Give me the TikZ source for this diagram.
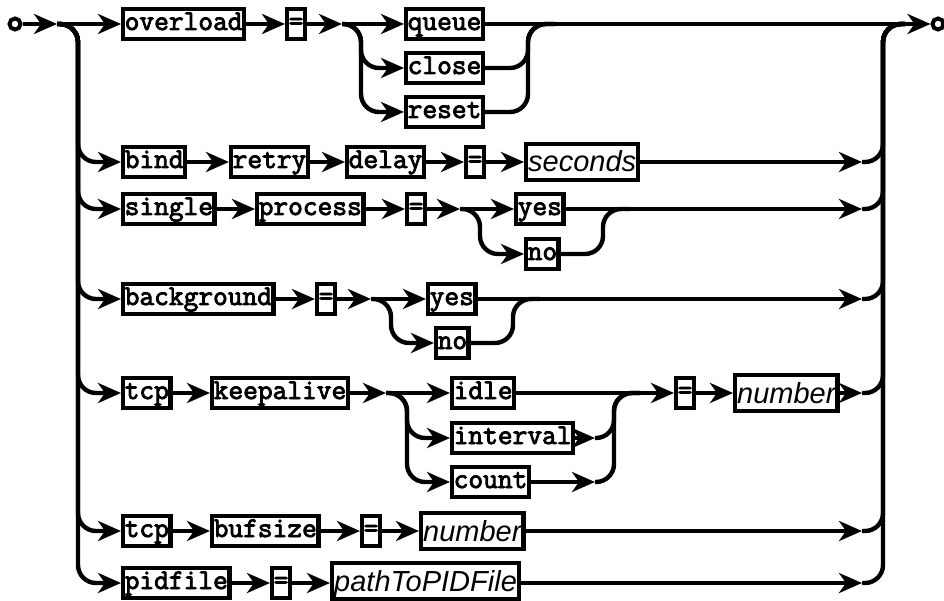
\documentclass[tikz,border=0pt]{standalone}
\usepackage{fontspec}
\setmonofont{Latin Modern Mono}[AutoFakeBold=3]
\setsansfont{Liberation Sans}
\usetikzlibrary{arrows.meta}
\begin{document}
\begin{tikzpicture}[x=1pt, y=-1pt, line width=4.4pt,
    >={Stealth[length=23pt,width=20pt,inset=7pt]},
    kw/.style={draw, anchor=west, inner xsep=1.5pt, inner ysep=0pt, minimum height=30pt, text height=17pt, text depth=5pt, font=\fontsize{28.6}{28.6}\selectfont\ttfamily\bfseries},
    nt/.style={draw, anchor=west, inner xsep=2pt, inner ysep=0pt, minimum height=36pt, text height=22pt, text depth=2pt, font=\fontsize{29}{29}\selectfont\sffamily\itshape},
    rail/.style={rounded corners=18pt},
    term/.style={draw, circle, inner sep=0pt, minimum size=11pt, line width=4pt}]
    \useasboundingbox (0,0) rectangle (944,601);
    \node[term] (entry) at (15,24) {};
    \node[term] (exit) at (938,24) {};
    \coordinate (j0) at (57,24);
    \coordinate (lrail) at (78,24);
    \coordinate (rtop) at (883,24);
    \coordinate (rtopr) at (905,24);
    % overload = queue | close | reset
    \node[kw] (ovl) at (121,24) {overload};
    \node[kw] (eq1) at (285,24) {=};
    \coordinate (c1) at (342,24);
    \coordinate (b1) at (361,24);
    \node[kw] (queue) at (404,24) {queue};
    \node[kw] (close) at (404,68) {close};
    \node[kw] (reset) at (404,112) {reset};
    \coordinate (m1) at (528,24);
    \coordinate (m1r) at (555,24);
    \draw[->] (entry) -- (j0);
    \draw[->] (j0) -- (ovl);
    \draw[->] (ovl) -- (eq1);
    \draw[->] (eq1) -- (c1);
    \draw[->] (c1) -- (queue);
    \draw[->] (queue) -- (exit);
    \draw[rail, ->] (c1) -| (close.west -| b1) -- (close);
    \draw[rail, ->] (c1) -| (reset.west -| b1) -- (reset);
    \draw[rail] (close.east) -| (m1) -- (m1r);
    \draw[rail] (reset.east) -| (m1) -- (m1r);
    % bind retry delay = seconds
    \node[kw] (bind) at (121,162) {bind};
    \node[kw] (retry) at (229,162) {retry};
    \node[kw] (delay) at (345,162) {delay};
    \node[kw] (eq2) at (464,162) {=};
    \node[nt] (seconds) at (524,162) {seconds};
    \coordinate (r2) at (862,162);
    \draw[rail, ->] (j0) -| (bind.west -| lrail) -- (bind);
    \draw[->] (bind) -- (retry);
    \draw[->] (retry) -- (delay);
    \draw[->] (delay) -- (eq2);
    \draw[->] (eq2) -- (seconds);
    \draw[->] (seconds) -- (r2);
    \draw[rail] (r2) -| (rtop) -- (rtopr);
    % single process = yes | no
    \node[kw] (single) at (121,209) {single};
    \node[kw] (process) at (255,209) {process};
    \node[kw] (eq3) at (405,209) {=};
    \coordinate (c3) at (460,209);
    \coordinate (b3) at (480,209);
    \node[kw] (yes3) at (514,209) {yes};
    \node[kw] (no3) at (524,254) {no};
    \coordinate (m3) at (603,209);
    \coordinate (m3r) at (630,209);
    \coordinate (r3) at (862,209);
    \draw[rail, ->] (j0) -| (single.west -| lrail) -- (single);
    \draw[->] (single) -- (process);
    \draw[->] (process) -- (eq3);
    \draw[->] (eq3) -- (c3);
    \draw[->] (c3) -- (yes3);
    \draw[rail, ->] (c3) -| (no3.west -| b3) -- (no3);
    \draw[rail] (no3.east) -| (m3) -- (m3r);
    \draw[->] (yes3) -- (r3);
    \draw[rail] (r3) -| (rtop) -- (rtopr);
    % background = yes | no
    \node[kw] (bg) at (121,299) {background};
    \node[kw] (eq4) at (315,299) {=};
    \coordinate (c4) at (371,299);
    \coordinate (b4) at (391,299);
    \node[kw] (yes4) at (426,299) {yes};
    \node[kw] (no4) at (434,343) {no};
    \coordinate (m4) at (513,299);
    \coordinate (m4r) at (540,299);
    \coordinate (r4) at (862,299);
    \draw[rail, ->] (j0) -| (bg.west -| lrail) -- (bg);
    \draw[->] (bg) -- (eq4);
    \draw[->] (eq4) -- (c4);
    \draw[->] (c4) -- (yes4);
    \draw[rail, ->] (c4) -| (no4.west -| b4) -- (no4);
    \draw[rail] (no4.east) -| (m4) -- (m4r);
    \draw[->] (yes4) -- (r4);
    \draw[rail] (r4) -| (rtop) -- (rtopr);
    % tcp keepalive idle | interval | count = number
    \node[kw] (tcp5) at (121,393) {tcp};
    \node[kw] (keep) at (210,393) {keepalive};
    \coordinate (c5) at (386,393);
    \coordinate (b5) at (407,393);
    \node[kw] (idle) at (450,393) {idle};
    \node[kw] (interval) at (450,438) {interval};
    \node[kw] (count) at (450,482) {count};
    \coordinate (a5i) at (595,438);
    \coordinate (a5c) at (595,482);
    \coordinate (m5) at (614,393);
    \coordinate (m5r) at (640,393);
    \node[kw] (eq5) at (674,393) {=};
    \node[nt] (num5) at (733,393) {number};
    \coordinate (r5) at (862,393);
    \draw[rail, ->] (j0) -| (tcp5.west -| lrail) -- (tcp5);
    \draw[->] (tcp5) -- (keep);
    \draw[->] (keep) -- (c5);
    \draw[->] (c5) -- (idle);
    \draw[rail, ->] (c5) -| (interval.west -| b5) -- (interval);
    \draw[rail, ->] (c5) -| (count.west -| b5) -- (count);
    \draw[->] (interval) -- (a5i);
    \draw[->] (count) -- (a5c);
    \draw[rail] (a5i) -| (m5) -- (m5r);
    \draw[rail] (a5c) -| (m5) -- (m5r);
    \draw[->] (idle) -- (eq5);
    \draw[->] (eq5) -- (num5);
    \draw[->] (num5) -- (r5);
    \draw[rail] (r5) -| (rtop) -- (rtopr);
    % tcp bufsize = number
    \node[kw] (tcp6) at (121,531) {tcp};
    \node[kw] (bufsize) at (210,531) {bufsize};
    \node[kw] (eq6) at (360,531) {=};
    \node[nt] (num6) at (419,531) {number};
    \coordinate (r6) at (862,531);
    \draw[rail, ->] (j0) -| (tcp6.west -| lrail) -- (tcp6);
    \draw[->] (tcp6) -- (bufsize);
    \draw[->] (bufsize) -- (eq6);
    \draw[->] (eq6) -- (num6);
    \draw[->] (num6) -- (r6);
    \draw[rail] (r6) -| (rtop) -- (rtopr);
    % pidfile = pathToPIDFile
    \node[kw] (pidfile) at (121,583) {pidfile};
    \node[kw] (eq7) at (270,583) {=};
    \node[nt] (path) at (330,581) {pathToPIDFile};
    \coordinate (r7) at (862,583);
    \draw[rail, ->] (j0) -| (pidfile.west -| lrail) -- (pidfile);
    \draw[->] (pidfile) -- (eq7);
    \draw[->] (eq7) -- (path.west |- eq7);
    \draw[->] (path.east |- eq7) -- (r7);
    \draw[rail] (r7) -| (rtop) -- (rtopr);
\end{tikzpicture}
\end{document}
